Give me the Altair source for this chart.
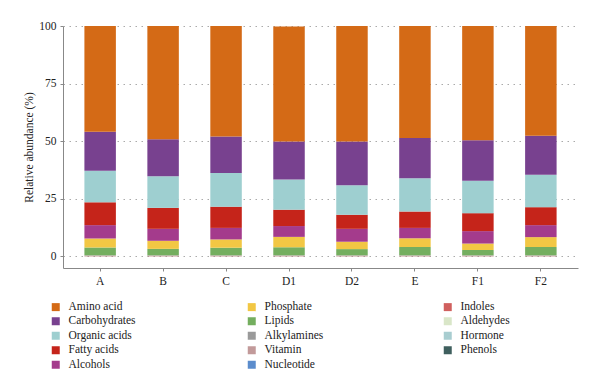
import altair as alt
import pandas as pd

samples = ["A", "B", "C", "D1", "D2", "E", "F1", "F2"]

amino_acid    = [45.9, 49.1, 47.9, 49.9, 50.1, 48.6, 49.6, 47.6]
carbohydrates = [16.9, 16.1, 15.9, 16.5, 19.0, 17.5, 17.5, 16.9]
organic_acids = [13.7, 13.7, 14.6, 13.1, 12.8, 14.4, 14.1, 14.1]
fatty_acids   = [9.9, 9.1, 9.2, 7.1, 6.1, 7.1, 7.8, 7.8]
alcohols      = [5.8, 5.2, 5.0, 4.7, 5.6, 4.5, 5.4, 5.2]
phosphate     = [3.9, 3.5, 3.6, 4.5, 3.2, 3.8, 2.8, 4.3]
lipids        = [3.4, 2.8, 3.3, 3.5, 2.7, 3.6, 2.3, 3.6]
alkylamines   = [0.05, 0.05, 0.05, 0.05, 0.05, 0.05, 0.05, 0.05]
vitamin       = [0.20, 0.20, 0.20, 0.20, 0.20, 0.20, 0.20, 0.20]
nucleotide    = [0.03, 0.03, 0.03, 0.03, 0.03, 0.03, 0.03, 0.03]
indoles       = [0.12, 0.12, 0.12, 0.12, 0.12, 0.12, 0.12, 0.12]
aldehydes     = [0.03, 0.03, 0.03, 0.03, 0.03, 0.03, 0.03, 0.03]
hormone       = [0.04, 0.04, 0.04, 0.04, 0.04, 0.04, 0.04, 0.04]
phenols       = [0.03, 0.03, 0.03, 0.03, 0.03, 0.03, 0.03, 0.03]

# stacking order: first = bottom
series = [
    ("Phenols", phenols, "#3f5f5e"),
    ("Hormone", hormone, "#a8cdd0"),
    ("Aldehydes", aldehydes, "#d9e6c8"),
    ("Indoles", indoles, "#d0605e"),
    ("Nucleotide", nucleotide, "#5b8ccc"),
    ("Vitamin", vitamin, "#c29a9a"),
    ("Alkylamines", alkylamines, "#9a9a9a"),
    ("Lipids", lipids, "#74ae5f"),
    ("Phosphate", phosphate, "#f2c744"),
    ("Alcohols", alcohols, "#a43b8c"),
    ("Fatty acids", fatty_acids, "#c5241a"),
    ("Organic acids", organic_acids, "#9ecfd0"),
    ("Carbohydrates", carbohydrates, "#78418f"),
    ("Amino acid", amino_acid, "#d46a16"),
]
color_of = {name: col for name, _, col in series}

legend_order = [
    "Amino acid", "Carbohydrates", "Organic acids", "Fatty acids", "Alcohols",
    "Phosphate", "Lipids", "Alkylamines", "Vitamin", "Nucleotide",
    "Indoles", "Aldehydes", "Hormone", "Phenols",
]

rows = []
for rank, (name, vals, _) in enumerate(series):
    for s, v in zip(samples, vals):
        rows.append({"sample": s, "category": name, "value": v, "rank": rank})
df = pd.DataFrame(rows)

FONT = "Liberation Serif"

chart = alt.Chart(df).mark_bar().encode(
    x=alt.X("sample:N", sort=samples, title=None,
            scale=alt.Scale(paddingInner=0.5, paddingOuter=0.34),
            axis=alt.Axis(labelAngle=0, domainColor="#888888", tickColor="#888888",
                          tickSize=3, labelPadding=4, labelFontSize=11.5,
                          labelColor="#222222", labelFont=FONT)),
    y=alt.Y("value:Q", stack="zero", title="Relative abundance (%)",
            scale=alt.Scale(domain=[-5, 100], nice=False, zero=False),
            axis=alt.Axis(values=[0, 25, 50, 75, 100], domainColor="#888888",
                          tickColor="#888888", tickSize=3, labelPadding=4,
                          labelFontSize=11.5, labelColor="#222222", labelFont=FONT,
                          titleFont=FONT,
                          titleFontSize=11.5, titleFontWeight="normal",
                          titleColor="#222222", titlePadding=4,
                          grid=True, gridColor="#aaaaaa", gridDash=[1.5, 4.5])),
    color=alt.Color("category:N",
                    scale=alt.Scale(domain=legend_order,
                                    range=[color_of[c] for c in legend_order]),
                    legend=alt.Legend(orient="none", legendX=-13, legendY=275,
                                      columns=3, columnPadding=110, rowPadding=1.5,
                                      symbolType="square", symbolSize=64,
                                      symbolStrokeWidth=0, labelOffset=7,
                                      labelFontSize=11.5, labelColor="#222222",
                                      labelFont=FONT,
                                      gridAlign="all", title=None, padding=0)),
    order=alt.Order("rank:Q", sort="ascending"),
).properties(
    width=515, height=242,
    autosize=alt.AutoSizeParams(type="none"),
    padding={"left": 55, "top": 18, "right": 14, "bottom": 115},
).configure(
    font=FONT,
).configure_view(stroke=None).configure_axis(gridWidth=1)

chart.save("out.html", embed_options={"renderer": "svg", "actions": False})
